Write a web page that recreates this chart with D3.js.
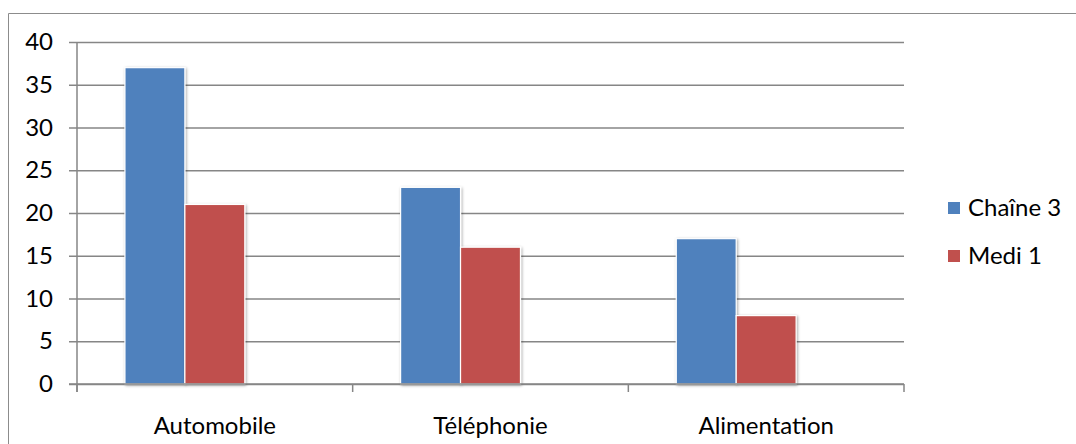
<!DOCTYPE html>
<html><head><meta charset="utf-8">
<script src="https://cdn.jsdelivr.net/npm/d3@7"></script>
<style>
html,body{margin:0;padding:0;background:#fff;}
svg{display:block;}
text{font-family:Lato,"Open Sans",sans-serif;fill:#000;}
</style></head><body>
<svg id="chart" width="1076" height="444"></svg>
<script>
const categories = ["Automobile", "Téléphonie", "Alimentation"];
const seriesNames = ["Chaîne 3", "Medi 1"];
const chaine3 = [37, 23, 17];
const medi1 = [21, 16, 8];
const yTicks = [0, 5, 10, 15, 20, 25, 30, 35, 40];
const colors = ["#4F81BD", "#C0504D"];
const seriesValues = [chaine3, medi1];

const svg = d3.select("#chart");
const W = 1076, H = 444;
const m = {left: 77, right: 904, top: 42, bottom: 384};
const fs = 24;

// outer frame (top and left edges visible)
svg.append("path").attr("d", `M8.5,${H} V13.5 H${W}`).attr("fill","none").attr("stroke","#8c8c8c").attr("stroke-width",1);

const x = d3.scaleBand().domain(categories).range([m.left, m.right]).paddingInner(0).paddingOuter(0);
// three slots per category (third slot empty, as in original)
const slots = [0, 1, 2];
const x1 = d3.scaleBand().domain(slots).range([0, x.bandwidth()]).paddingOuter(0.8).paddingInner(0);
const y = d3.scaleLinear().domain([0, 40]).range([m.bottom, m.top]);

const defs = svg.append("defs");
const f = defs.append("filter").attr("id","sh").attr("x","-20%").attr("y","-20%").attr("width","140%").attr("height","140%");
f.append("feGaussianBlur").attr("in","SourceAlpha").attr("stdDeviation",1.5).attr("result","b");
f.append("feOffset").attr("in","b").attr("dx",1).attr("dy",1).attr("result","o");
f.append("feComponentTransfer").attr("in","o").attr("result","o2").append("feFuncA").attr("type","linear").attr("slope",0.35);
const mg = f.append("feMerge");
mg.append("feMergeNode").attr("in","o2");
mg.append("feMergeNode").attr("in","SourceGraphic");

// gridlines + y ticks
const yAxis = d3.axisLeft(y).tickValues(yTicks).tickSize(-(m.right - m.left)).tickSizeOuter(0).tickPadding(24);
const gy = svg.append("g").attr("transform", `translate(${m.left},0)`).call(yAxis);
gy.select(".domain").remove();
gy.selectAll(".tick line").attr("x1", -8).attr("stroke", "#868686").attr("stroke-width", 1.5);
gy.selectAll(".tick text").attr("font-size", fs).attr("font-family","Lato,'Open Sans',sans-serif").attr("fill","#000");

// bars
const groups = svg.append("g").selectAll("g").data(categories).join("g")
  .attr("transform", d => `translate(${x(d)},0)`);
seriesNames.forEach((s, si) => {
  groups.append("rect")
    .attr("x", (d) => x1(si))
    .attr("width", x1.bandwidth())
    .attr("y", (d, i) => y(seriesValues[si][i]))
    .attr("height", (d, i) => y(0) - y(seriesValues[si][i]))
    .attr("fill", colors[si])
    .attr("stroke", "#fff").attr("stroke-width", 1.2)
    .attr("filter", "url(#sh)");
});

// y axis line
svg.append("line").attr("x1", m.left).attr("x2", m.left).attr("y1", m.top).attr("y2", m.bottom + 8)
  .attr("stroke", "#868686").attr("stroke-width", 1.5);

// x axis
const xAxis = d3.axisBottom(x).tickSize(0).tickSizeOuter(0).tickPadding(33);
const gx = svg.append("g").attr("transform", `translate(0,${m.bottom})`).call(xAxis);
gx.select(".domain").remove();
gx.selectAll(".tick text").attr("font-size", fs).attr("font-family","Lato,'Open Sans',sans-serif").attr("fill","#000");
svg.append("line").attr("x1", m.left - 8).attr("x2", m.right).attr("y1", m.bottom).attr("y2", m.bottom)
  .attr("stroke", "#868686").attr("stroke-width", 1.5);
const bounds = categories.map(c => x(c)).concat([m.right]);
svg.append("g").selectAll("line").data(bounds).join("line")
  .attr("x1", d => d).attr("x2", d => d).attr("y1", m.bottom).attr("y2", m.bottom + 8)
  .attr("stroke", "#868686").attr("stroke-width", 1.5);

// legend
const leg = svg.append("g").selectAll("g").data(seriesNames).join("g")
  .attr("transform", (d, i) => `translate(948,${208 + i * 48})`);
leg.append("rect").attr("x", 0).attr("y", -6).attr("width", 12).attr("height", 12).attr("fill", (d, i) => colors[i]);
leg.append("text").attr("x", 20).attr("y", 0).attr("dy", "0.35em").attr("font-size", fs).text(d => d);
</script>
</body></html>
